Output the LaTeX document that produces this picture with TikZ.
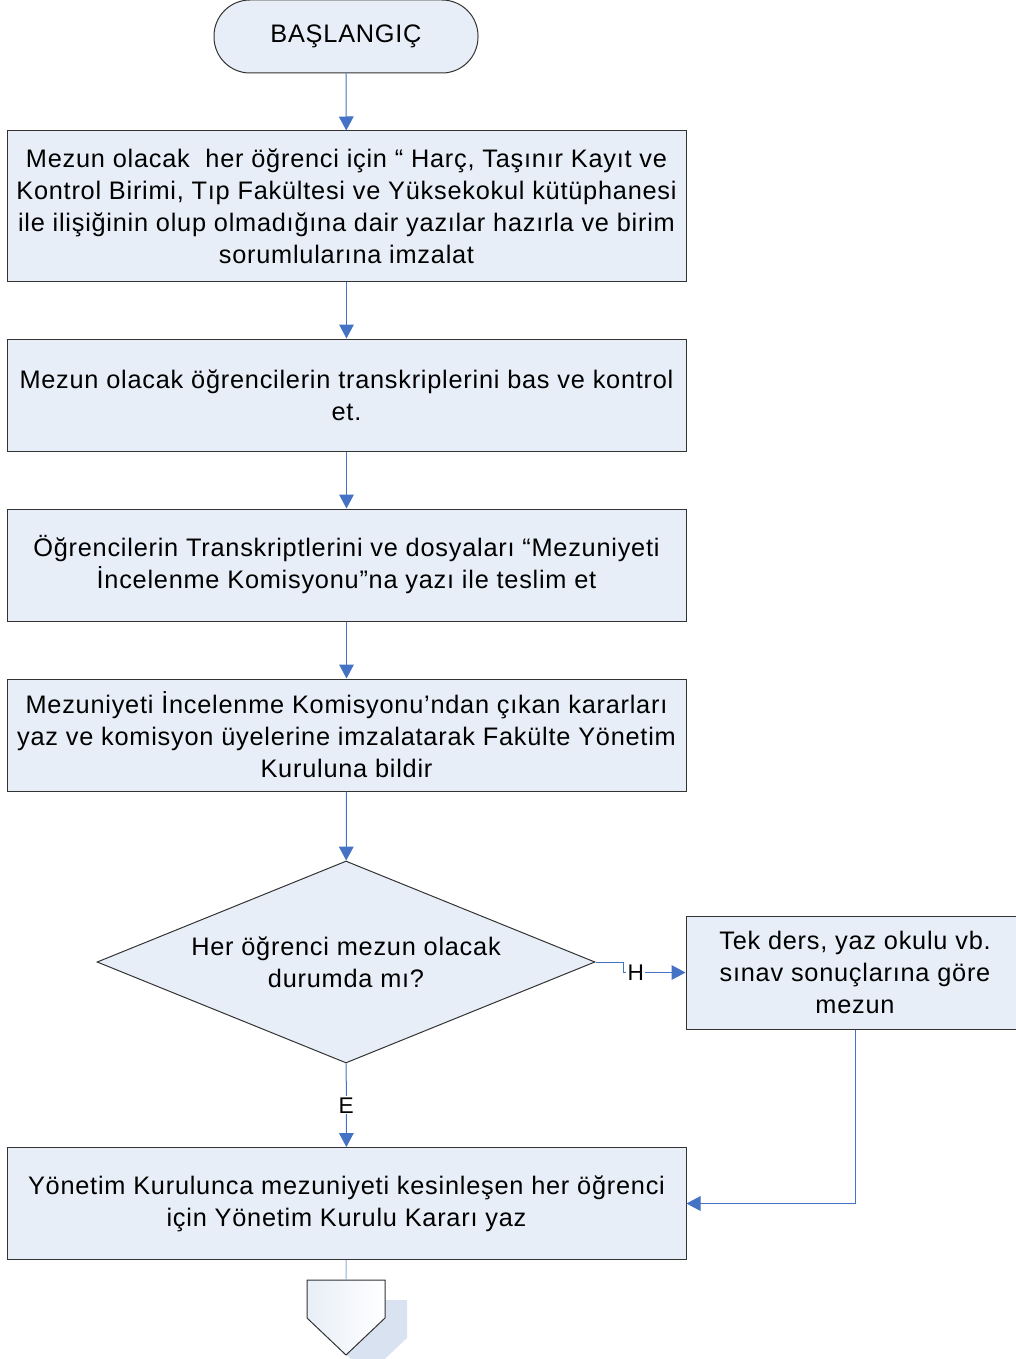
\documentclass[tikz,border=0pt]{standalone}
\usepackage{fontspec}
\setmainfont[LetterSpace=3]{Liberation Sans}
\usetikzlibrary{arrows.meta,shapes.geometric}
\definecolor{boxfill}{HTML}{E8EEF7}
\definecolor{linkblue}{HTML}{4472C4}
\definecolor{shadowblue}{HTML}{D9E2F1}

\begin{document}
\begin{tikzpicture}[x=0.75pt, y=-0.75pt,
    every node/.style={font=\fontsize{19}{24}\selectfont, align=center},
    box/.style={draw=black!80, fill=boxfill, line width=0.75pt, minimum width=509.25pt, minimum height=84pt, inner sep=0pt},
    link/.style={draw=linkblue, line width=0.75pt, -{Triangle[length=10.5pt,width=11pt]}},
    lbl/.style={fill=white, inner sep=1pt, font=\fontsize{17}{18}\selectfont}]
  \useasboundingbox (0,0) rectangle (1016,1359);
  \node (start) [box, minimum width=198pt, minimum height=54.75pt, rounded corners=27pt] at (346,36.5) {BAŞLANGIÇ};
  \node (b1) [box, minimum height=112.5pt] at (346.5,206) {Mezun olacak \ her öğrenci için “ Harç, Taşınır Kayıt ve\\ Kontrol Birimi, Tıp Fakültesi ve Yüksekokul kütüphanesi\\ ile ilişiğinin olup olmadığına dair yazılar hazırla ve birim\\ sorumlularına imzalat};
  \node (b2) [box] at (346.5,395) {Mezun olacak öğrencilerin transkriplerini bas ve kontrol\\ et.};
  \node (b3) [box] at (346.5,565) {Öğrencilerin Transkriptlerini ve dosyaları “Mezuniyeti\\ İncelenme Komisyonu”na yazı ile teslim et};
  \node (b4) [box] at (346.5,735) {Mezuniyeti İncelenme Komisyonu’ndan çıkan kararları\\ yaz ve komisyon üyelerine imzalatarak Fakülte Yönetim\\ Kuruluna bildir};
  \node (d) [box, diamond, aspect=2.465, minimum width=373.5pt, minimum height=151.5pt] at (346,962) {Her öğrenci mezun olacak\\ durumda mı?};
  \node (r) [box, minimum width=253.5pt, minimum height=84.75pt] at (855,972.5) {Tek ders, yaz okulu vb.\\ sınav sonuçlarına göre\\ mezun};
  \node (b5) [box] at (346.5,1203.5) {Yönetim Kurulunca mezuniyeti kesinleşen her öğrenci\\ için Yönetim Kurulu Kararı yaz};
  \coordinate (off) at (346,1280);
  \fill[shadowblue] (off) ++(-17,20) -- ++(78,0) -- ++(0,38) -- ++(-39,37) -- ++(-39,-37) -- cycle;
  \draw[draw=black!80, line width=0.75pt, left color=boxfill, right color=white] (off) ++(-39,0) -- ++(78,0) -- ++(0,38) -- ++(-39,37) -- ++(-39,-37) -- cycle;
  \draw[link] (start) -- (b1);
  \draw[link] (b1) -- (b2);
  \draw[link] (b2) -- (b3);
  \draw[link] (b3) -- (b4);
  \draw[link] (b4) -- (d);
  \draw[link] (d.east) -- ++(28,0) |- node[lbl, pos=0.6] {H} (r);
  \draw[link] (d) -- node[lbl] {E} (b5);
  \draw[link] (r) |- (b5);
  \draw[draw=linkblue!60, line width=0.75pt] (b5) -- (off);
\end{tikzpicture}
\end{document}
